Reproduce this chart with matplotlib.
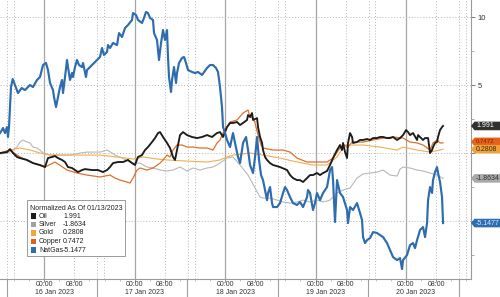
import matplotlib
matplotlib.use("Agg")
import matplotlib.pyplot as plt
from matplotlib.patches import Polygon, Rectangle

plt.rcParams['font.family'] = ['Liberation Sans', 'DejaVu Sans']

# time axis: hours since 16 Jan 2023 00:00
ng_t = [-11.76,-11.23,-10.96,-10.43,-9.90,-9.64,-9.37,-8.84,-8.39,-6.98,
        -6.00,-5.12,-3.80,-3.00,-1.94,-1.14,-0.34,0.45,0.98,1.52,
        2.31,2.58,3.11,3.64,4.17,4.70,4.97,5.50,6.03,6.29,
        6.83,7.36,7.62,8.15,8.68,9.21,10.01,10.28,11.07,11.34,
        14.79,15.32,15.85,16.65,16.91,17.45,18.24,19.30,19.83,20.63,
        21.43,22.22,23.29,23.55,24.35,24.88,25.94,26.47,27.00,27.53,
        28.07,28.86,29.13,29.92,30.45,30.99,31.52,32.05,32.58,32.84,
        33.11,33.64,33.91,34.44,34.97,35.23,35.77,36.56,37.09,37.62,
        38.15,39.21,40.01,40.81,41.87,43.20,44.00,44.79,45.59,46.12,
        46.65,47.18,47.45,47.98,48.51,49.31,50.10,50.63,51.43,51.96,
        52.76,53.56,54.09,54.62,55.42,55.95,56.48,57.01,57.54,58.07,
        58.60,59.13,59.40,59.93,60.46,60.73,61.79,62.58,63.38,63.91,
        64.44,65.24,66.03,67.09,67.89,68.69,69.75,70.01,70.55,71.34,
        71.87,72.40,73.20,74.00,75.06,75.86,76.39,76.65,77.18,77.71,
        78.51,79.31,80.37,80.63,81.17,81.96,83.02,83.82,84.35,84.62,
        85.15,85.68,86.48,87.28,88.34,89.13,89.93,90.99,91.79,92.59,
        93.65,94.44,94.97,95.24,96.30,97.10,97.89,98.42,98.96,99.75,
        100.55,101.08,101.61,101.88,102.41,102.94,103.20,103.73,104.26,104.53,
        105.06,105.59,105.86]
ng_v = [1.47,1.69,1.84,1.47,1.91,1.18,1.91,4.85,5.44,4.41,
        4.78,4.63,5.00,4.85,5.37,5.59,6.47,6.62,6.10,5.15,
        4.63,4.12,3.38,4.12,4.85,5.37,4.41,5.59,6.84,6.32,
        5.37,5.88,5.59,6.32,6.84,6.47,6.32,6.62,5.59,6.10,
        7.06,7.72,7.21,7.43,7.94,7.72,8.09,7.94,8.82,8.53,
        9.19,9.41,9.78,10.29,10.15,9.78,9.56,9.93,10.37,10.29,
        9.93,9.78,8.82,8.31,6.84,8.09,9.04,8.31,9.04,7.06,
        5.59,4.49,5.37,6.32,5.15,5.88,6.62,6.99,7.06,6.62,
        6.10,5.96,5.88,5.96,5.74,6.25,6.47,6.47,6.25,5.96,
        4.85,3.38,1.91,1.47,0.96,0.44,1.47,0.74,-0.29,-0.74,
        0.74,1.18,0.22,-0.88,-1.47,-0.29,1.18,-0.51,-1.62,-1.99,
        -2.72,-3.46,-2.94,-2.50,-3.68,-3.97,-3.97,-3.68,-2.94,-2.50,
        -2.72,-3.24,-3.68,-3.82,-3.60,-3.97,-3.24,-2.72,-2.94,-4.19,
        -3.68,-2.94,-3.46,-2.94,-2.50,-1.25,-1.03,-1.99,-5.07,-1.99,
        -2.94,-3.24,-4.19,-5.15,-3.97,-4.19,-3.68,-4.41,-4.93,-6.18,
        -6.62,-6.40,-6.25,-5.81,-5.88,-6.03,-6.18,-6.62,-7.13,-7.65,
        -7.87,-7.72,-8.53,-7.87,-7.50,-6.76,-6.62,-6.99,-6.40,-5.66,
        -5.44,-6.18,-5.15,-3.46,-2.50,-2.94,-1.99,-1.40,-1.03,-1.47,
        -2.13,-3.24,-5.1477]

oil_t = [-11.76,-9.90,-9.11,-8.31,-7.25,-6.45,-4.59,-3.00,-1.14,0.19,
         0.98,2.04,2.84,3.64,4.70,5.50,6.29,7.36,8.15,8.95,
         10.01,10.81,12.67,14.26,15.59,16.65,17.45,18.24,19.57,20.90,
         22.22,23.29,24.08,24.88,25.94,26.74,27.53,28.60,29.39,30.19,
         30.72,31.52,32.58,33.38,34.17,34.70,35.23,36.03,36.83,37.89,
         39.21,40.54,41.87,43.20,44.53,45.85,46.65,47.45,48.51,49.31,
         50.10,51.17,51.96,52.76,53.82,54.09,54.62,55.15,55.42,56.48,
         56.74,57.27,57.81,58.07,58.60,59.13,59.93,60.73,62.58,64.44,
         65.24,66.03,67.09,67.89,68.69,69.75,70.55,71.34,72.40,73.20,
         74.00,75.06,75.86,76.65,77.71,78.51,79.04,79.31,79.84,80.37,
         80.63,81.17,81.70,81.96,83.02,83.82,84.62,85.68,86.48,87.28,
         88.34,89.13,89.93,90.99,91.79,92.59,93.65,94.44,95.24,96.04,
         96.57,97.10,97.89,98.96,99.22,99.75,100.55,101.08,101.88,102.41,
         102.94,103.20,103.73,104.26,104.53,105.06,105.59,105.86]
oil_v = [0.00,0.07,0.29,0.00,-0.29,-0.37,-0.51,-0.74,-0.88,-1.03,
         -0.37,-0.29,-0.22,-0.37,-0.51,-0.66,-1.03,-1.10,-1.25,-1.40,
         -1.25,-1.18,-1.25,-1.25,-1.40,-1.25,-1.03,-0.74,-0.66,-0.66,
         -0.51,-0.74,-0.88,-0.29,-0.15,0.22,0.44,0.81,1.10,1.47,
         1.54,1.18,0.74,0.37,-0.29,-0.51,0.22,1.32,1.54,1.32,
         1.18,1.10,1.18,1.32,1.18,1.47,1.54,1.18,1.91,2.21,
         2.21,2.28,2.06,2.21,2.43,2.79,2.65,2.94,2.43,2.57,
         1.91,1.18,0.74,0.22,-0.29,-0.51,-0.74,-0.88,-1.03,-1.25,
         -1.62,-1.84,-1.99,-1.99,-2.13,-1.84,-1.62,-1.62,-1.47,-1.62,
         -1.47,-1.32,-0.88,-0.37,0.22,0.59,0.22,0.74,0.07,-0.37,
         0.74,1.47,1.18,0.74,0.81,0.96,0.96,1.03,0.96,1.10,
         1.10,1.18,1.18,1.10,1.10,1.18,0.96,1.10,1.32,1.69,
         1.54,1.32,1.47,0.96,1.32,1.18,0.96,1.10,1.10,0.00,
         0.22,0.44,0.74,0.81,1.18,1.69,1.91,1.991]

silver_t = [-11.76,-9.90,-8.31,-7.25,-6.45,-5.65,-4.59,-3.80,-3.00,-1.94,
            -1.14,-0.34,1.52,4.17,6.83,9.48,11.34,14.79,16.65,17.98,
            18.77,20.63,23.55,25.41,27.27,28.86,30.72,32.58,34.17,36.03,
            37.89,39.48,41.34,43.20,44.79,46.65,48.51,50.10,51.96,54.09,
            55.95,57.27,58.07,59.93,61.79,63.38,65.24,67.09,68.69,70.55,
            72.40,74.00,75.86,77.71,79.31,81.17,83.02,84.62,86.48,88.34,
            89.93,91.79,93.65,94.44,95.24,97.10,98.96,100.55,102.41,104.26,
            105.86]
silver_v = [-0.07,0.00,0.22,0.44,0.81,0.96,0.81,0.74,0.44,0.37,
            0.22,0.00,-0.15,-0.15,-0.15,0.00,0.07,0.07,0.22,0.00,
            -0.15,-0.37,-0.74,-0.74,-1.03,-1.10,-1.25,-1.32,-1.25,-1.03,
            -1.32,-1.10,-1.25,-1.10,-1.03,-0.74,-0.37,-0.29,-0.88,-1.62,
            -2.57,-3.24,-3.31,-3.31,-3.46,-3.60,-3.68,-3.60,-3.46,-3.60,
            -3.46,-3.60,-3.46,-2.94,-2.72,-2.57,-1.84,-1.54,-1.47,-1.40,
            -1.25,-1.62,-1.69,-1.18,-1.03,-1.10,-1.25,-1.32,-1.47,-1.62,
            -1.8634]

gold_t = [-11.76,-9.11,-6.45,-3.80,-1.14,1.52,6.03,10.28,14.79,19.30,
          23.55,26.21,29.92,32.58,37.89,43.20,46.65,48.51,50.10,54.62,
          58.07,62.58,67.09,71.34,75.06,77.71,79.31,81.17,84.62,89.13,
          93.65,95.24,98.96,102.41,105.06,105.86]
gold_v = [0.00,0.22,0.37,0.22,0.00,-0.15,-0.15,-0.15,-0.15,-0.29,
          -0.44,-0.29,-0.44,-0.51,-0.59,-0.66,-0.51,-0.29,-0.15,0.00,
          -0.15,-0.37,-0.66,-0.88,-0.88,-0.29,0.37,0.59,0.59,0.44,
          0.22,0.44,0.22,0.07,0.22,0.2808]

copper_t = [-11.76,-9.11,-6.45,-3.00,0.19,2.84,6.03,8.68,11.34,14.79,
            17.45,18.77,20.10,21.96,22.76,23.55,24.61,25.41,27.27,28.86,
            30.72,31.52,32.58,33.38,34.17,35.23,36.56,37.89,39.48,41.34,
            43.20,44.79,45.85,46.65,47.45,48.51,49.31,51.17,52.76,54.09,
            54.62,55.42,55.95,56.74,57.54,58.07,60.73,63.38,65.24,67.09,
            69.75,72.40,75.06,76.65,78.51,79.84,80.63,81.70,84.62,87.28,
            89.93,92.59,95.24,97.10,98.96,100.55,102.41,103.20,104.26,105.06,
            105.86]
copper_v = [0.00,0.22,-0.29,-0.74,-1.03,-0.66,-1.25,-1.47,-1.62,-1.76,
            -1.62,-1.84,-1.99,-2.13,-2.21,-1.84,-1.25,-1.10,-1.25,-1.10,
            -0.74,-0.51,-0.15,-0.29,0.22,0.59,0.59,0.44,0.44,0.37,
            0.37,0.22,0.74,0.96,1.47,1.91,2.28,2.43,2.94,3.16,
            2.65,2.57,2.21,1.32,0.59,0.37,0.22,0.22,0.07,-0.37,
            -0.66,-0.66,-0.66,-0.37,0.37,0.59,0.44,0.81,0.81,0.96,
            1.10,1.18,1.10,0.81,0.74,0.59,0.22,0.74,0.96,0.74,
            0.7472]

names = ["Oil", "Silver", "Gold", "Copper", "NatGas"]
last_values = ["1.991", "-1.8634", "0.2808", "0.7472", "-5.1477"]
last_numeric = [1.991, -1.8634, 0.2808, 0.7472, -5.1477]
legend_title = "Normalized As Of 01/13/2023"
day_starts = [0, 24, 48, 72, 96]
day_labels = ["16 Jan 2023", "17 Jan 2023", "18 Jan 2023", "19 Jan 2023", "20 Jan 2023"]
y_ticks = [-5, 0, 5, 10]
y_tick_labels = ["", "", "5", "10"]   # 0 and -5 are hidden behind value tags

line_colors = {"Oil": "#1c1c1c", "Silver": "#b8b8b8", "Gold": "#f3ad52",
               "Copper": "#e0702a", "NatGas": "#2d6cae"}
line_widths = {"Oil": 1.35, "Silver": 0.8, "Gold": 0.8, "Copper": 0.9, "NatGas": 1.55}
box_face = {"Oil": "#303030", "Silver": "#a9a9a9", "Gold": "#f0a23a",
            "Copper": "#e4621c", "NatGas": "#2f6db3"}
box_text = {"Oil": "white", "Silver": "#333333", "Gold": "#3a2a10",
            "Copper": "#8a1a00", "NatGas": "#dce8f7"}
square_color = {"Oil": "#1c1c1c", "Silver": "#a0a0a0", "Gold": "#f2a53a",
                "Copper": "#e2601a", "NatGas": "#2d6cae"}

W, H = 500, 297
fig = plt.figure(figsize=(W / 100, H / 100), dpi=100)
ax = fig.add_axes([0, 18 / H, 471 / W, 279 / H])
ax.set_xlim(-11.76, 113.28)
ax.set_ylim(-9.26, 11.25)
ax.set_facecolor("white")

for s in ["left", "top"]:
    ax.spines[s].set_visible(False)
for s in ["right", "bottom"]:
    ax.spines[s].set_color("#9a9a9a")
    ax.spines[s].set_linewidth(0.8)

# grid
dot = (0, (1, 2))
for v in y_ticks:
    ax.axhline(v, color="#b5b5b5", lw=0.7, ls=dot, zorder=0)
for d in day_starts:
    ax.axvline(d, color="#a6a6a6", lw=0.9, zorder=0)
    ax.axvline(d + 8, color="#b5b5b5", lw=0.7, ls=dot, zorder=0)
for d in [-24] + day_starts:
    for off in (14.1, 15.9):
        ax.axvline(d + off, color="#b5b5b5", lw=0.7, ls=dot, zorder=0)

# series
series = {"Silver": (silver_t, silver_v), "Gold": (gold_t, gold_v),
          "Copper": (copper_t, copper_v), "Oil": (oil_t, oil_v),
          "NatGas": (ng_t, ng_v)}
for z, name in enumerate(["Silver", "Gold", "Copper", "Oil", "NatGas"]):
    t, v = series[name]
    assert len(t) == len(v), name
    ax.plot(t, v, color=line_colors[name], lw=line_widths[name], zorder=2 + z,
            solid_joinstyle="round")

# y axis on right
ax.yaxis.tick_right()
ax.set_yticks(y_ticks)
ax.set_yticklabels(y_tick_labels)
ax.set_yticks([-7.5, -2.5, 2.5, 7.5], minor=True)
ax.tick_params(axis="y", which="major", length=3, width=0.7, color="#777777",
               labelsize=5.5, labelcolor="#333333", pad=2)
ax.tick_params(axis="y", which="minor", length=2, width=0.6, color="#999999")

# x axis
ax.set_xticks([d + o for d in day_starts for o in (0, 8)])
ax.set_xticklabels([])
ax.set_xticks([h for h in range(-8, 113, 4) if h % 24 not in (0, 8)], minor=True)
ax.tick_params(axis="x", which="major", length=2.5, width=0.6, color="#888888")
ax.tick_params(axis="x", which="minor", length=1.5, width=0.5, color="#aaaaaa")
xt = ax.get_xaxis_transform()
for d, lab in zip(day_starts, day_labels):
    ax.text(d, -0.02, "00:00", transform=xt, ha="center", va="center",
            fontsize=5, color="#333333", clip_on=False)
    ax.text(d + 8, -0.02, "08:00", transform=xt, ha="center", va="center",
            fontsize=5, color="#333333", clip_on=False)
    ax.text(d - 2.5, -0.049, lab, transform=xt, ha="left", va="center",
            fontsize=5, color="#333333", clip_on=False)
for d in [-24] + day_starts:
    ax.plot([d + 14.0, d + 14.0], [0, -0.07], transform=xt, color="#a0a0a0",
            lw=0.8, clip_on=False)

# legend box (manual, figure pixels)
def fx(px):
    return px / W

def fy(py):
    return 1 - py / H

fig.patches.append(Rectangle((fx(27), fy(256)), 98 / W, 56 / H, transform=fig.transFigure,
                             facecolor="white", edgecolor="#8a8a8a", lw=0.6, zorder=5))
fig.text(fx(30), fy(208), legend_title, fontsize=5, color="#222222", va="center",
         ha="left", zorder=6)
for i, (name, val) in enumerate(zip(names, last_values)):
    yc = 216 + i * 8.5
    fig.patches.append(Rectangle((fx(31), fy(yc + 2.6)), 5.2 / W, 5.2 / H,
                                 transform=fig.transFigure, facecolor=square_color[name],
                                 edgecolor="none", zorder=6))
    fig.text(fx(39), fy(yc), name, fontsize=5, color="#222222", va="center", ha="left", zorder=6)
    fig.text(fx(63), fy(yc), val, fontsize=5, color="#222222", va="center", ha="left", zorder=6)

# right-side value tags
fig.canvas.draw()
order = ["Silver", "NatGas", "Copper", "Gold", "Oil"]
for name in order:
    i = names.index(name)
    v = last_numeric[i]
    ypix = ax.transData.transform((0, v))[1]
    yc = H - ypix
    hh = 4.3
    if name == "Copper":
        yc -= 1.0
        fs = 4.3
    else:
        fs = 5
    pts = [(471, yc), (474.5, yc - hh), (500, yc - hh), (500, yc + hh), (474.5, yc + hh)]
    fig.patches.append(Polygon([(fx(x), fy(y)) for x, y in pts], closed=True,
                               transform=fig.transFigure, facecolor=box_face[name],
                               edgecolor="none", zorder=7))
    fig.text(fx(476), fy(yc), last_values[i], fontsize=fs, color=box_text[name],
             va="center", ha="left", zorder=8)

fig.savefig("out.png", dpi=100)
